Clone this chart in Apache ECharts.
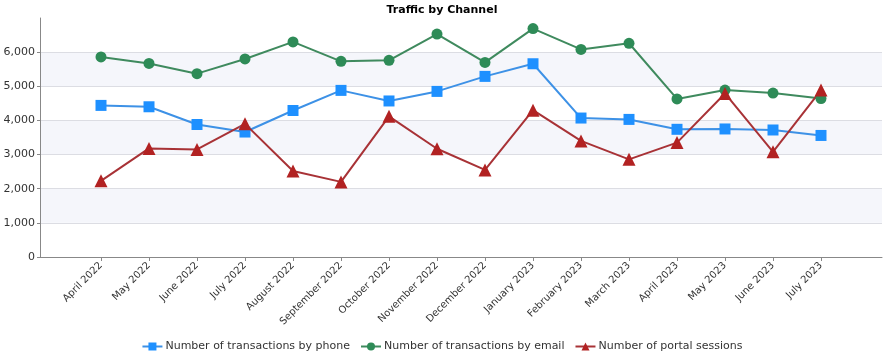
<!DOCTYPE html>
<html>
<head>
	<meta charset="utf-8"/>
	<title>Traffic by Channel</title>
	<style>
		* {
			margin: 0;
			padding: 0;
		}
		body {
			background: #fff;
		}
	</style>
</head>
<body>

	<div style="width: 884px;height:354px;" id="myChart"></div>

	<script src="https://cdn.jsdelivr.net/npm/echarts@6/dist/echarts.min.js"></script>
	<script>
		var months = ['April 2022', 'May 2022', 'June 2022', 'July 2022', 'August 2022', 'September 2022',
			'October 2022', 'November 2022', 'December 2022', 'January 2023', 'February 2023', 'March 2023',
			'April 2023', 'May 2023', 'June 2023', 'July 2023'];

		var phone = [4440, 4400, 3880, 3660, 4290, 4880, 4570, 4850, 5290, 5660, 4070, 4030, 3740, 3750, 3720, 3560];
		var email = [5860, 5670, 5370, 5800, 6300, 5730, 5760, 6530, 5700, 6690, 6080, 6260, 4630, 4890, 4800, 4640];
		var portal = [2230, 3180, 3150, 3900, 2520, 2200, 4120, 3170, 2550, 4300, 3400, 2860, 3350, 4790, 3080, 4890];

		var seriesNames = ['Number of transactions by phone', 'Number of transactions by email', 'Number of portal sessions'];

		var font = 'Tahoma, "DejaVu Sans", sans-serif';
		var myChart = echarts.init(document.getElementById('myChart'));

		var option = {
			animation: false,
			title: {
				text: 'Traffic by Channel',
				left: 'center',
				top: 0,
				textStyle: {
					fontFamily: font,
					fontSize: 11,
					fontWeight: 'bold',
					color: '#000'
				}
			},
			legend: {
				data: seriesNames,
				top: 336,
				left: 'center',
				itemWidth: 20,
				itemHeight: 10,
				itemGap: 10,
				textStyle: {
					fontFamily: font,
					fontSize: 11,
					color: '#333',
					padding: [0, 0, 0, -2]
				}
			},
			// grid 0: the plot frame (y axis, bands, x axis line)
			// grid 1: the months, inset so the first/last points sit away from the edges
			grid: [
				{left: 40, right: 2, top: 18, bottom: 97},
				{left: 101, right: 63, top: 18, bottom: 97}
			],
			xAxis: [
				{
					gridIndex: 0,
					type: 'category',
					data: months,
					axisLine: {lineStyle: {color: '#888', width: 1}},
					axisTick: {show: false},
					axisLabel: {show: false}
				},
				{
					gridIndex: 1,
					type: 'category',
					data: months,
					boundaryGap: false,
					axisLine: {show: false},
					axisTick: {show: true, length: 4, lineStyle: {color: '#888'}},
					axisLabel: {
						interval: 0,
						rotate: 45,
						margin: 7,
						fontFamily: font,
						fontSize: 10,
						color: '#333'
					}
				}
			],
			yAxis: [
				{
					gridIndex: 0,
					type: 'value',
					min: 0,
					max: 7000,
					interval: 1000,
					axisLine: {show: true, lineStyle: {color: '#888'}},
					axisTick: {show: true, length: 3, lineStyle: {color: '#888'}},
					axisLabel: {
						showMaxLabel: false,
						margin: 5,
						fontFamily: font,
						fontSize: 11,
						color: '#333',
						formatter: function (v) {
							return v.toLocaleString('en-US');
						}
					},
					splitLine: {
						showMaxLine: false,
						lineStyle: {color: '#dcdde3'}
					},
					splitArea: {
						show: true,
						areaStyle: {color: ['#ffffff', '#f5f6fb']}
					}
				},
				{
					gridIndex: 1,
					type: 'value',
					min: 0,
					max: 7000,
					show: false
				}
			],
			series: [
				{
					name: seriesNames[0],
					type: 'line',
					xAxisIndex: 1,
					yAxisIndex: 1,
					data: phone,
					symbol: 'rect',
					symbolSize: 11,
					itemStyle: {color: '#1e90ff'},
					lineStyle: {color: '#3d91e6', width: 2}
				},
				{
					name: seriesNames[1],
					type: 'line',
					xAxisIndex: 1,
					yAxisIndex: 1,
					data: email,
					symbol: 'circle',
					symbolSize: 11,
					itemStyle: {color: '#2e8b57'},
					lineStyle: {color: '#3f8a5e', width: 2}
				},
				{
					name: seriesNames[2],
					type: 'line',
					xAxisIndex: 1,
					yAxisIndex: 1,
					data: portal,
					symbol: 'triangle',
					symbolSize: 13,
					itemStyle: {color: '#b22222'},
					lineStyle: {color: '#a83236', width: 2}
				}
			]
		};

		myChart.setOption(option);
	</script>
</body>
</html>
